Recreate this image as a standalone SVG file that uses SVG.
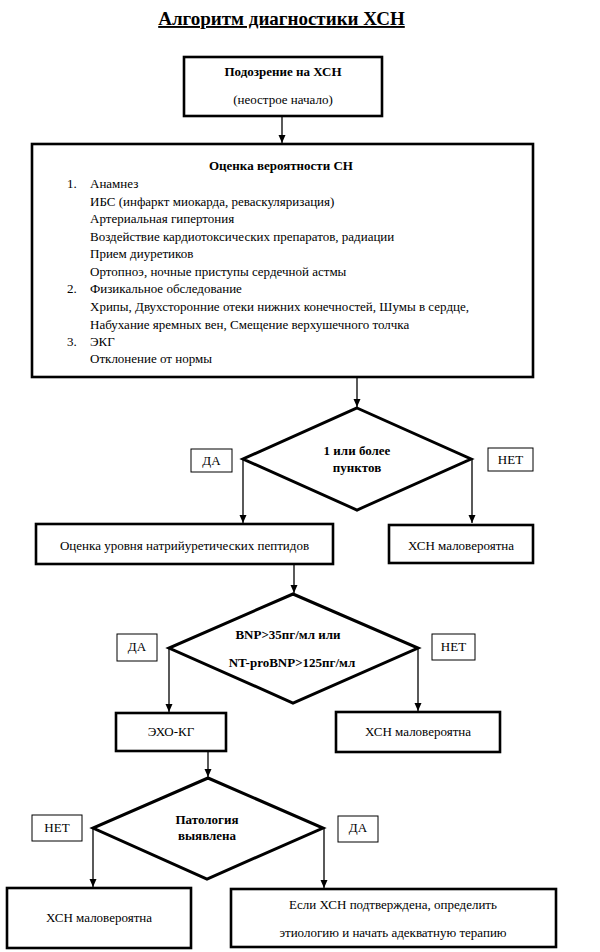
<svg xmlns="http://www.w3.org/2000/svg" width="600" height="952" viewBox="0 0 600 952">
<defs>
<marker id="arr" markerUnits="userSpaceOnUse" markerWidth="9" markerHeight="8" refX="8" refY="4" orient="auto">
<path d="M0,0.5 L8,4 L0,7.5 z" fill="#000"/>
</marker>
<style>
text{font-family:"Liberation Serif","Times New Roman",serif;fill:#000;font-size:13px}
.t{font-size:19px;font-weight:bold;text-decoration:underline}
.b{font-weight:bold}
.c{text-anchor:middle}
.box{fill:#fff;stroke:#000;stroke-width:2.6}
.dia{fill:#fff;stroke:#000;stroke-width:3}
.lab{fill:#fff;stroke:#000;stroke-width:1}
.con{fill:none;stroke:#000;stroke-width:1.3}
</style>
</defs>
<rect width="600" height="952" fill="#fff"/>
<g id="title">
<text x="281.5" y="25" class="t c">Алгоритм диагностики ХСН</text>
</g>
<g id="connectors">
<line class="con" x1="282" y1="117" x2="282" y2="143" marker-end="url(#arr)"/>
<line class="con" x1="357" y1="378" x2="357" y2="407" marker-end="url(#arr)"/>
<line class="con" x1="243" y1="459" x2="243" y2="523" marker-end="url(#arr)"/>
<line class="con" x1="472" y1="459" x2="472" y2="523" marker-end="url(#arr)"/>
<line class="con" x1="294" y1="565" x2="294" y2="593" marker-end="url(#arr)"/>
<line class="con" x1="169" y1="648" x2="169" y2="712" marker-end="url(#arr)"/>
<line class="con" x1="418" y1="648" x2="418" y2="711" marker-end="url(#arr)"/>
<line class="con" x1="208" y1="752" x2="208" y2="777" marker-end="url(#arr)"/>
<line class="con" x1="93" y1="828" x2="93" y2="887" marker-end="url(#arr)"/>
<line class="con" x1="324" y1="828" x2="324" y2="888" marker-end="url(#arr)"/>
</g>
<g id="n-start">
<rect class="box" x="184" y="57" width="198" height="59"/>
<text x="283" y="76" class="b c">Подозрение на ХСН</text>
<text x="283" y="104" class="c">(неострое начало)</text>
</g>
<g id="n-assess">
<rect class="box" x="32" y="144" width="501" height="233"/>
<text x="281" y="170" class="b c">Оценка вероятности СН</text>
<text x="67" y="188">1.</text>
<text x="90" y="188">Анамнез</text>
<text x="90" y="206">ИБС (инфаркт миокарда, реваскуляризация)</text>
<text x="90" y="223">Артериальная гипертония</text>
<text x="90" y="241">Воздействие кардиотоксических препаратов, радиации</text>
<text x="90" y="258">Прием диуретиков</text>
<text x="90" y="276">Ортопноэ, ночные приступы сердечной астмы</text>
<text x="67" y="293">2.</text>
<text x="90" y="293">Физикальное обследование</text>
<text x="90" y="311">Хрипы, Двухсторонние отеки нижних  конечностей, Шумы в сердце,</text>
<text x="90" y="329">Набухание  яремных вен, Смещение верхушечного толчка</text>
<text x="67" y="346">3.</text>
<text x="90" y="346">ЭКГ</text>
<text x="90" y="363">Отклонение от нормы</text>
</g>
<g id="d1">
<polygon class="dia" points="357,408 471,459 357,510 243,459"/>
<text x="357" y="455" class="b c">1 или более</text>
<text x="357" y="472" class="b c">пунктов</text>
</g>
<g id="l-d1-yes">
<rect class="lab" x="191" y="449" width="41" height="23"/>
<text x="211.5" y="465" class="c">ДА</text>
</g>
<g id="l-d1-no">
<rect class="lab" x="488" y="448" width="45" height="23"/>
<text x="510.5" y="464" class="c">НЕТ</text>
</g>
<g id="n-peptides">
<rect class="box" x="36" y="524" width="297" height="40"/>
<text x="184.5" y="550" class="c">Оценка  уровня натрийуретических пептидов</text>
</g>
<g id="n-unlikely1">
<rect class="box" x="389" y="525" width="144" height="38"/>
<text x="461" y="550" class="c">ХСН маловероятна</text>
</g>
<g id="d2">
<polygon class="dia" points="293,594 418,648 293,703 169,648"/>
<text x="288" y="639" class="b c">BNP&gt;35пг/мл или</text>
<text x="292" y="667" class="b c">NT-proBNP&gt;125пг/мл</text>
</g>
<g id="l-d2-yes">
<rect class="lab" x="117" y="634" width="40" height="27"/>
<text x="137" y="651" class="c">ДА</text>
</g>
<g id="l-d2-no">
<rect class="lab" x="432" y="634" width="43" height="26"/>
<text x="453.5" y="651" class="c">НЕТ</text>
</g>
<g id="n-echo">
<rect class="box" x="116" y="713" width="110" height="38"/>
<text x="171" y="736" class="c">ЭХО-КГ</text>
</g>
<g id="n-unlikely2">
<rect class="box" x="336" y="712" width="164" height="40"/>
<text x="418" y="736" class="c">ХСН маловероятна</text>
</g>
<g id="d3">
<polygon class="dia" points="208,778 323,828 207,879 93,828"/>
<text x="207" y="824" class="b c">Патология</text>
<text x="207" y="840" class="b c">выявлена</text>
</g>
<g id="l-d3-no">
<rect class="lab" x="32" y="815" width="50" height="26"/>
<text x="57" y="832" class="c">НЕТ</text>
</g>
<g id="l-d3-yes">
<rect class="lab" x="338" y="816" width="40" height="26"/>
<text x="358" y="832" class="c">ДА</text>
</g>
<g id="n-unlikely3">
<rect class="box" x="7" y="888" width="184" height="60"/>
<text x="99" y="922" class="c">ХСН маловероятна</text>
</g>
<g id="n-confirmed">
<rect class="box" x="231" y="889" width="325" height="58"/>
<text x="393" y="909" class="c">Если ХСН подтверждена, определить</text>
<text x="393" y="937" class="c">этиологию и начать адекватную терапию</text>
</g>
</svg>
